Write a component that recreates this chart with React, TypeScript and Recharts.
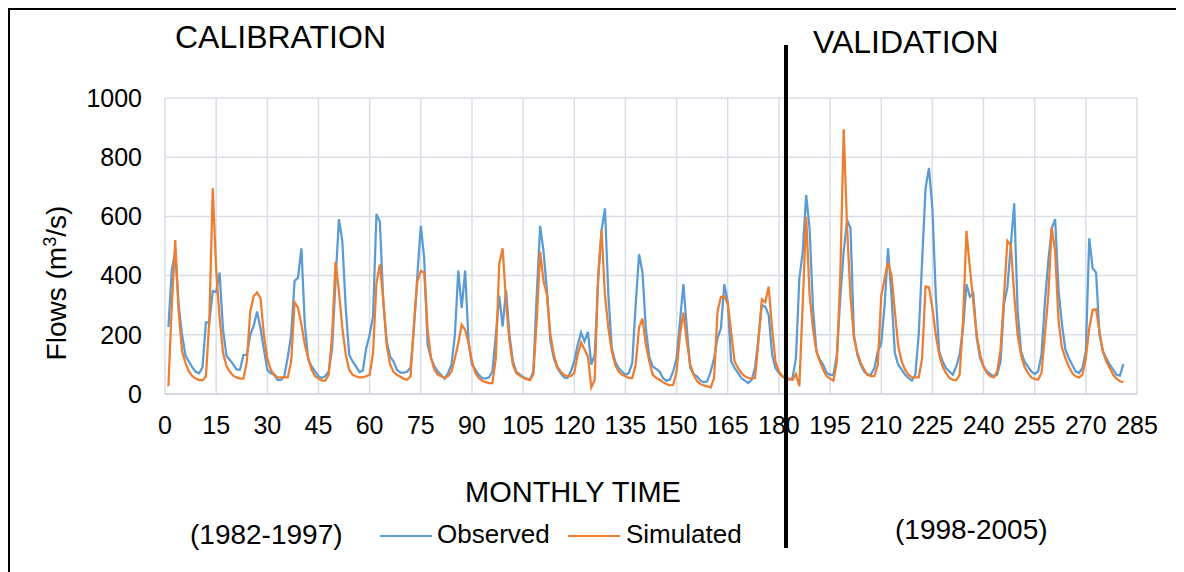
import { LineChart, Line, XAxis, YAxis, CartesianGrid } from 'recharts';

// monthly flows, month 1 .. 281 (m3/s)
const observed = [
  226, 420, 480, 300, 200, 130, 110, 90, 75, 70, 90, 242, 242, 348, 344, 410, 220, 130, 115, 100,
  82, 82, 132, 132, 200, 230, 279, 222, 150, 82, 70, 65, 48, 48, 60, 125, 200, 382, 393, 492,
  234, 116, 93, 76, 60, 54, 60, 76, 155, 380, 591, 515, 290, 133, 110, 93, 74, 79, 155, 200,
  262, 608, 582, 312, 178, 127, 110, 82, 72, 72, 75, 90, 222, 402, 568, 459, 166, 121, 93, 76,
  63, 52, 71, 99, 200, 417, 290, 417, 178, 99, 82, 65, 54, 52, 56, 76, 200, 332, 228, 350,
  200, 110, 76, 66, 57, 52, 48, 76, 335, 568, 481, 346, 178, 121, 88, 71, 56, 54, 76, 110,
  166, 208, 178, 210, 99, 133, 380, 554, 627, 335, 155, 110, 88, 76, 65, 71, 105, 301, 472, 410,
  220, 125, 93, 85, 76, 54, 45, 48, 76, 121, 245, 371, 222, 88, 67, 60, 45, 40, 43, 76,
  121, 189, 222, 371, 310, 110, 88, 71, 54, 45, 37, 48, 88, 189, 300, 295, 267, 133, 88, 71,
  60, 54, 48, 54, 121, 391, 481, 672, 560, 290, 144, 116, 99, 71, 65, 65, 133, 324, 481, 588,
  560, 200, 133, 99, 76, 65, 67, 88, 144, 170, 300, 492, 335, 138, 99, 82, 65, 54, 45, 65,
  200, 450, 695, 764, 627, 335, 144, 110, 88, 76, 65, 93, 133, 222, 371, 329, 340, 189, 121, 93,
  76, 67, 60, 65, 110, 305, 360, 503, 644, 280, 144, 110, 93, 76, 67, 76, 133, 312, 450, 560,
  591, 350, 234, 150, 121, 99, 76, 71, 88, 144, 526, 425, 410, 200, 144, 121, 99, 82, 65, 62,
  101,
];

const simulated = [
  26, 300, 520, 279, 144, 105, 76, 60, 52, 48, 46, 60, 250, 695, 420, 260, 140, 95, 75, 62,
  56, 52, 52, 110, 279, 330, 343, 324, 200, 121, 82, 65, 56, 56, 56, 56, 110, 310, 292, 234,
  166, 121, 82, 60, 52, 45, 45, 65, 200, 447, 346, 222, 133, 82, 65, 60, 56, 56, 60, 65,
  138, 374, 438, 320, 165, 100, 75, 65, 58, 52, 48, 60, 240, 380, 416, 410, 220, 121, 82, 65,
  60, 54, 60, 76, 121, 172, 234, 217, 172, 110, 71, 54, 45, 40, 37, 37, 121, 440, 492, 310,
  178, 99, 71, 62, 55, 50, 47, 65, 250, 481, 380, 335, 200, 133, 93, 76, 65, 60, 60, 71,
  133, 174, 150, 127, 22, 48, 402, 554, 335, 222, 144, 99, 76, 65, 60, 54, 54, 99, 225, 255,
  165, 110, 65, 55, 48, 40, 34, 29, 31, 76, 200, 275, 178, 99, 65, 43, 34, 29, 26, 22,
  54, 278, 328, 330, 306, 210, 110, 88, 71, 60, 54, 52, 54, 178, 320, 310, 363, 222, 110, 76,
  60, 52, 52, 48, 67, 26, 310, 599, 335, 222, 144, 110, 82, 60, 52, 45, 110, 400, 894, 560,
  330, 190, 140, 105, 82, 65, 60, 60, 99, 330, 390, 444, 402, 279, 161, 110, 82, 65, 56, 56,
  56, 121, 363, 360, 290, 200, 133, 93, 71, 54, 48, 46, 65, 250, 551, 425, 312, 200, 133, 93,
  71, 60, 56, 76, 150, 330, 517, 503, 335, 200, 133, 93, 71, 56, 51, 48, 71, 200, 335, 562,
  481, 245, 155, 121, 93, 71, 60, 56, 65, 121, 222, 284, 287, 211, 144, 110, 88, 65, 52, 43,
  40,
];

const monthTicks = [0, 15, 30, 45, 60, 75, 90, 105, 120, 135, 150, 165, 180, 195, 210, 225, 240, 255, 270, 285];
const flowTicks = [0, 200, 400, 600, 800, 1000];

const data = observed.map((obs, i) => ({
  month: i + 1,
  observed: obs,
  simulated: simulated[i],
}));

const FONT = '"Liberation Sans", Arial, Helvetica, sans-serif';
const BLUE = '#5B9BD5';
const ORANGE = '#ED7D31';
const GRID = '#d9dee6';

function Text({ x, y, size, children }: { x: number; y: number; size: number; children: any }) {
  return (
    <div
      style={{
        position: 'absolute',
        left: x,
        top: y,
        fontSize: size,
        lineHeight: 1,
        whiteSpace: 'nowrap',
        color: '#000',
      }}
    >
      {children}
    </div>
  );
}

function Swatch({ x, y, color }: { x: number; y: number; color: string }) {
  return <div style={{ position: 'absolute', left: x, top: y, width: 52, height: 2, background: color }} />;
}

export default function App() {
  return (
    <div style={{ position: 'relative', width: 1176, height: 564, fontFamily: FONT }}>
      <div style={{ position: 'absolute', left: 0, top: 0 }}>
        <LineChart
          width={1176}
          height={564}
          data={data}
          margin={{ top: 90, right: 47, bottom: 118, left: 57 }}
        >
          <CartesianGrid stroke={GRID} strokeWidth={1.5} />
          <XAxis
            dataKey="month"
            type="number"
            domain={[0, 285]}
            ticks={monthTicks}
            interval={0}
            height={60}
            tickLine={false}
            tickSize={0}
            tickMargin={22}
            axisLine={{ stroke: '#cfd5de', strokeWidth: 1.5 }}
            tick={{ fill: '#000', fontSize: 25, fontFamily: FONT }}
          />
          <YAxis
            type="number"
            domain={[0, 1000]}
            ticks={flowTicks}
            width={100}
            tickLine={false}
            tickSize={0}
            tickMargin={23}
            axisLine={false}
            tick={{ fill: '#000', fontSize: 25, fontFamily: FONT }}
          />
          <Line
            type="linear"
            dataKey="observed"
            stroke={BLUE}
            strokeWidth={2.25}
            dot={false}
            isAnimationActive={false}
          />
          <Line
            type="linear"
            dataKey="simulated"
            stroke={ORANGE}
            strokeWidth={2.25}
            dot={false}
            isAnimationActive={false}
          />
        </LineChart>
      </div>

      {/* outer frame, top and left edges */}
      <div style={{ position: 'absolute', left: 0, top: 0, width: 1176, height: 2, background: '#000' }} />
      <div style={{ position: 'absolute', left: 0, top: 0, width: 2, height: 564, background: '#000' }} />

      {/* y axis title */}
      <div
        style={{
          position: 'absolute',
          left: 49,
          top: 275,
          fontSize: 28,
          lineHeight: 1,
          whiteSpace: 'nowrap',
          transform: 'translate(-50%, -50%) rotate(-90deg)',
        }}
      >
        Flows (m<sup style={{ fontSize: '0.65em', lineHeight: 0 }}>3</sup>/s)
      </div>

      <Text x={167} y={13} size={32}>CALIBRATION</Text>
      <Text x={805} y={18} size={32}>VALIDATION</Text>
      <Text x={457} y={470} size={29}>MONTHLY TIME</Text>

      <Text x={182} y={513} size={28}>(1982-1997)</Text>
      <Swatch x={372} y={527} color={BLUE} />
      <Text x={429} y={513} size={26}>Observed</Text>
      <Swatch x={560} y={527} color={ORANGE} />
      <Text x={618} y={513} size={26}>Simulated</Text>
      <Text x={887} y={508} size={28}>(1998-2005)</Text>

      {/* calibration / validation split */}
      <div style={{ position: 'absolute', left: 776, top: 37, width: 4, height: 503, background: '#000' }} />
    </div>
  );
}
